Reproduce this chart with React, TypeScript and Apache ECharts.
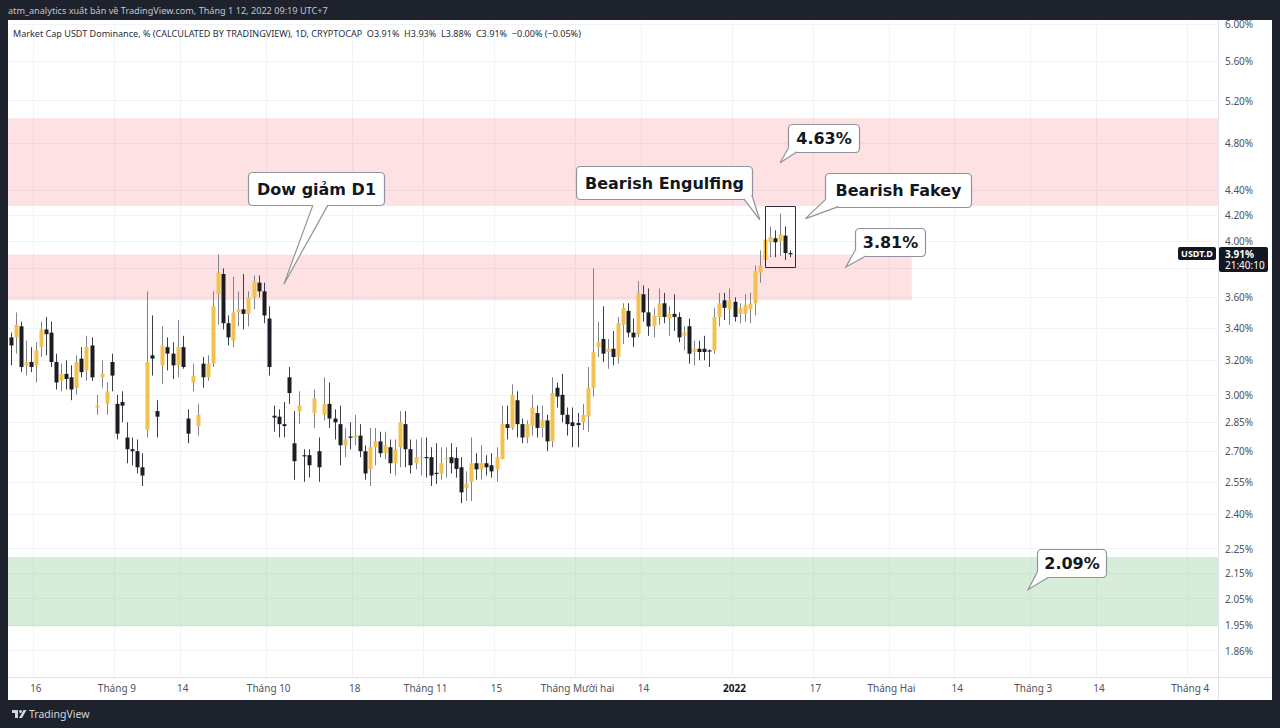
import React, { useEffect, useRef } from 'react';
import * as echarts from 'echarts';

// Daily candles, values in % : [open, close, low, high]
const aug2021 = [
  [3.34, 3.29, 3.17, 3.37], [3.34, 3.42, 3.24, 3.5], [3.41, 3.16, 3.13, 3.44], [3.17, 3.19, 3.11, 3.32],
  [3.19, 3.16, 3.13, 3.28], [3.17, 3.26, 3.07, 3.31], [3.28, 3.39, 3.22, 3.44], [3.39, 3.36, 3.23, 3.47],
  [3.37, 3.19, 3.16, 3.44], [3.19, 3.07, 3.03, 3.24], [3.08, 3.12, 3.02, 3.18], [3.12, 3.09, 3.03, 3.2],
  [3.1, 3.03, 2.97, 3.17], [3.04, 3.19, 3.0, 3.23], [3.21, 3.13, 3.1, 3.28], [3.14, 3.28, 3.08, 3.35],
  [3.29, 3.1, 3.08, 3.34], [2.93, 2.94, 2.89, 3.0], [3.1, 3.12, 3.04, 3.2], [2.95, 3.02, 2.89, 3.07],
  [3.19, 3.11, 3.02, 3.24],
];
const sep2021 = [
  [2.95, 2.79, 2.76, 3.0], [2.96, 2.94, 2.85, 3.02], [2.77, 2.71, 2.64, 2.85], [2.71, 2.7, 2.63, 2.77],
  [2.7, 2.62, 2.59, 2.76], [2.62, 2.58, 2.53, 2.69], [2.81, 3.19, 2.77, 3.64], [3.23, 3.21, 3.11, 3.48],
  [2.91, 2.88, 2.77, 2.97], [3.17, 3.29, 3.06, 3.41], [3.28, 3.24, 3.14, 3.34], [3.24, 3.17, 3.09, 3.31],
  [3.17, 3.28, 3.1, 3.45], [3.28, 3.16, 3.15, 3.35], [2.87, 2.79, 2.74, 2.92], [3.07, 3.11, 3.02, 3.18],
  [2.83, 2.89, 2.78, 2.95], [3.18, 3.1, 3.04, 3.22], [3.1, 3.18, 3.08, 3.23], [3.18, 3.54, 3.16, 3.64],
  [3.62, 3.77, 3.42, 3.9], [3.76, 3.43, 3.39, 3.8], [3.43, 3.34, 3.29, 3.48], [3.32, 3.5, 3.28, 3.74],
  [3.5, 3.52, 3.41, 3.64], [3.52, 3.49, 3.39, 3.76], [3.49, 3.6, 3.41, 3.64], [3.6, 3.71, 3.52, 3.75],
  [3.7, 3.64, 3.6, 3.75], [3.64, 3.48, 3.43, 3.7],
];
const oct2021 = [
  [3.46, 3.16, 3.11, 3.54], [2.885, 2.875, 2.8, 2.94], [2.88, 2.84, 2.77, 2.92], [2.84, 2.83, 2.77, 2.96],
  [3.1, 3.01, 2.95, 3.16], [2.74, 2.65, 2.56, 2.91], [2.91, 2.94, 2.84, 3.02], [2.68, 2.675, 2.55, 2.71],
  [2.68, 2.63, 2.57, 2.71], [2.9, 2.98, 2.82, 3.03], [2.7, 2.62, 2.55, 2.77], [2.89, 2.95, 2.86, 3.1],
  [2.95, 2.87, 2.82, 3.07], [2.87, 2.85, 2.76, 2.92], [2.84, 2.73, 2.63, 2.94], [2.73, 2.76, 2.67, 2.82],
  [2.775, 2.77, 2.71, 2.85], [2.77, 2.78, 2.73, 2.89], [2.78, 2.7, 2.67, 2.84], [2.7, 2.59, 2.56, 2.73],
  [2.61, 2.72, 2.53, 2.82], [2.72, 2.75, 2.63, 2.82], [2.75, 2.69, 2.67, 2.8], [2.69, 2.73, 2.66, 2.8],
  [2.72, 2.64, 2.59, 2.76], [2.64, 2.71, 2.58, 2.76], [2.72, 2.85, 2.62, 2.91], [2.84, 2.71, 2.62, 2.91],
  [2.71, 2.63, 2.59, 2.76], [2.64, 2.67, 2.61, 2.76], [2.666, 2.671, 2.58, 2.77],
];
const nov2021 = [
  [2.671, 2.666, 2.57, 2.77], [2.67, 2.58, 2.53, 2.72], [2.593, 2.588, 2.54, 2.74], [2.59, 2.64, 2.56, 2.72],
  [2.661, 2.666, 2.57, 2.72], [2.67, 2.64, 2.59, 2.74], [2.666, 2.612, 2.57, 2.72], [2.62, 2.5, 2.45, 2.67],
  [2.52, 2.54, 2.46, 2.6], [2.55, 2.64, 2.46, 2.77], [2.64, 2.61, 2.56, 2.69], [2.61, 2.64, 2.56, 2.73],
  [2.64, 2.62, 2.58, 2.68], [2.63, 2.6, 2.57, 2.69], [2.61, 2.67, 2.55, 2.72], [2.66, 2.84, 2.66, 2.94],
  [2.84, 2.82, 2.76, 2.94], [2.82, 3.0, 2.81, 3.06], [2.97, 2.84, 2.77, 3.02], [2.84, 2.77, 2.74, 2.87],
  [2.77, 2.84, 2.74, 2.86], [2.83, 2.93, 2.78, 3.0], [2.9, 2.82, 2.77, 2.94], [2.82, 2.86, 2.77, 2.94],
  [2.86, 2.75, 2.7, 2.89], [2.75, 3.01, 2.72, 3.1], [3.04, 2.99, 2.93, 3.07], [3.0, 2.89, 2.85, 3.12],
  [2.89, 2.84, 2.78, 2.93], [2.85, 2.83, 2.72, 2.93],
];
const dec2021 = [
  [2.846, 2.835, 2.72, 2.9], [2.85, 2.89, 2.81, 2.95], [2.88, 3.04, 2.8, 3.16], [3.04, 3.25, 2.99, 3.8],
  [3.28, 3.31, 3.22, 3.44], [3.33, 3.24, 3.19, 3.54], [3.25, 3.27, 3.15, 3.33], [3.27, 3.22, 3.17, 3.38],
  [3.22, 3.43, 3.18, 3.47], [3.42, 3.53, 3.3, 3.56], [3.51, 3.37, 3.34, 3.56], [3.37, 3.34, 3.28, 3.46],
  [3.36, 3.63, 3.34, 3.71], [3.62, 3.5, 3.44, 3.68], [3.5, 3.41, 3.35, 3.66], [3.41, 3.48, 3.34, 3.53],
  [3.47, 3.56, 3.42, 3.66], [3.56, 3.47, 3.43, 3.63], [3.46, 3.49, 3.35, 3.54], [3.49, 3.47, 3.38, 3.62],
  [3.47, 3.34, 3.31, 3.5], [3.35, 3.37, 3.26, 3.41], [3.41, 3.24, 3.18, 3.46], [3.25, 3.27, 3.17, 3.32],
  [3.27, 3.25, 3.2, 3.32], [3.27, 3.25, 3.2, 3.35], [3.26, 3.255, 3.16, 3.265], [3.26, 3.47, 3.24, 3.53],
  [3.47, 3.56, 3.41, 3.63], [3.58, 3.53, 3.45, 3.63], [3.52, 3.58, 3.42, 3.66],
];
const jan2022 = [
  [3.57, 3.47, 3.44, 3.6], [3.49, 3.53, 3.43, 3.56], [3.49, 3.55, 3.44, 3.62], [3.52, 3.56, 3.43, 3.63],
  [3.56, 3.78, 3.48, 3.82], [3.77, 3.82, 3.7, 3.93], [3.86, 4.01, 3.85, 4.07], [3.99, 4.03, 3.88, 4.11],
  [4.02, 3.99, 3.88, 4.08], [4.0, 4.05, 3.89, 4.21], [4.04, 3.91, 3.86, 4.11], [3.91, 3.91, 3.88, 3.93],
];

const firstDay = '2021-08-11';
const dayCount = 239;
const yMin = 1.7704;
const yMax = 6.0225;
// grid lines (3.80 sits under the last-price tag, so it has no visible label)
const priceGrid = [6.0, 5.6, 5.2, 4.8, 4.4, 4.2, 4.0, 3.8, 3.6, 3.4, 3.2, 3.0, 2.85, 2.7, 2.55, 2.4, 2.25, 2.15, 2.05, 1.95, 1.86];
const priceLabels = [6.0, 5.6, 5.2, 4.8, 4.4, 4.2, 4.0, 3.6, 3.4, 3.2, 3.0, 2.85, 2.7, 2.55, 2.4, 2.25, 2.15, 2.05, 1.95, 1.86];
const timeTicks: [string, string][] = [
  ['2021-08-16', '16'], ['2021-09-01', 'Tháng 9'], ['2021-09-14', '14'], ['2021-10-01', 'Tháng 10'],
  ['2021-10-18', '18'], ['2021-11-01', 'Tháng 11'], ['2021-11-15', '15'], ['2021-12-01', 'Tháng Mười hai'],
  ['2021-12-14', '14'], ['2022-01-01', '2022'], ['2022-01-17', '17'], ['2022-02-01', 'Tháng Hai'],
  ['2022-02-14', '14'], ['2022-03-01', 'Tháng 3'], ['2022-03-14', '14'], ['2022-04-01', 'Tháng 4'],
];

// Zones: from/to null = chart edge
const zones = [
  { from: null as string | null, to: null as string | null, low: 4.27, high: 5.03, color: 'rgba(242,54,69,0.15)' },
  { from: null as string | null, to: '2022-02-05', low: 3.58, high: 3.9, color: 'rgba(242,54,69,0.15)' },
  { from: null as string | null, to: null as string | null, low: 1.947, high: 2.216, color: 'rgba(76,175,80,0.22)' },
];
const highlight = { from: '2022-01-07', to: '2022-01-13', low: 3.81, high: 4.27 };
const callouts = [
  { date: '2021-10-04', value: 3.69, text: 'Dow giảm D1', box: [-36, -112, 136, 33], tail: [[29, -79], [44, -79]] },
  { date: '2022-01-06', value: 4.16, text: 'Bearish Engulfing', box: [-184, -54, 176, 33], tail: [[-16, -21], [-8, -25]] },
  { date: '2022-01-10', value: 4.63, text: '4.63%', box: [8, -39, 71, 28], tail: [[8, -14], [17, -11]] },
  { date: '2022-01-15', value: 4.17, text: 'Bearish Fakey', box: [20, -46, 146, 34], tail: [[20, -19], [33, -12]] },
  { date: '2022-01-23', value: 3.81, text: '3.81%', box: [9, -39, 70, 28], tail: [[9, -16], [20, -11]] },
  { date: '2022-02-28', value: 2.085, text: '2.09%', box: [9, -40, 69, 28], tail: [[9, -17], [20, -12]] },
];
const headerText = 'atm_analytics xuất bản về TradingView.com, Tháng 1 12, 2022 09:19 UTC+7';
const legendText = 'Market Cap USDT Dominance, % (CALCULATED BY TRADINGVIEW), 1D, CRYPTOCAP  O3.91%  H3.93%  L3.88%  C3.91%  −0.00% (−0.05%)';
const symbolName = 'USDT.D';
const lastPrice = 3.91;
const lastPriceText = '3.91%';
const countdown = '21:40:10';

const UP = '#f2c14e';
const DOWN = '#1c1d22';
const WICK_UP = '#80838c';
const WICK_DOWN = '#3b3e46';
const DARK = '#1e222d';

const dates: string[] = [];
{
  const start = Date.parse(firstDay + 'T00:00:00Z');
  for (let i = 0; i < dayCount; i++) dates.push(new Date(start + i * 86400000).toISOString().slice(0, 10));
}
const tickMap = new Map(timeTicks);
const allCandles = [...aug2021, ...sep2021, ...oct2021, ...nov2021, ...dec2021, ...jan2022];
const candleData = allCandles.map((d, i) => [i, d[0], d[1], d[2], d[3]]);
const zoneData = zones.map((z, i) => [
  z.from ? dates.indexOf(z.from) : -1,
  z.to ? dates.indexOf(z.to) : -1,
  z.low,
  z.high,
  i,
]);

function buildOption(): any {
  return {
    animation: false,
    backgroundColor: '#ffffff',
    grid: { left: 8, top: 22, width: 1210, height: 655, containLabel: false },
    xAxis: {
      type: 'category',
      data: dates,
      boundaryGap: true,
      axisLine: { show: false },
      axisTick: { show: false },
      axisLabel: {
        interval: (_i: number, v: string) => tickMap.has(v),
        formatter: (v: string) => (tickMap.get(v) === '2022' ? '{b|2022}' : tickMap.get(v) || ''),
        color: '#50535e',
        fontSize: 10,
        fontFamily: 'Noto Sans',
        margin: 6,
        hideOverlap: false,
        rich: { b: { fontWeight: 'bold', color: '#131722', fontSize: 10, fontFamily: 'Noto Sans' } },
      },
      splitLine: {
        show: true,
        interval: (_i: number, v: string) => tickMap.has(v),
        lineStyle: { color: '#f2f3f6', width: 1 },
      },
    },
    yAxis: {
      type: 'log',
      logBase: 10,
      position: 'right',
      min: yMin,
      max: yMax,
      axisLine: { show: false },
      axisTick: { show: false, customValues: priceGrid },
      axisLabel: {
        customValues: priceLabels,
        formatter: (v: number) => v.toFixed(2) + '%',
        color: '#50535e',
        fontSize: 10,
        fontFamily: 'Noto Sans',
        margin: 7,
      },
      splitLine: { show: true, lineStyle: { color: '#f2f3f6', width: 1 } },
    },
    series: [
      {
        type: 'custom',
        name: 'zones',
        z: 1,
        clip: true,
        data: zoneData,
        encode: { x: [0, 1], y: [2, 3] },
        renderItem: (params: any, api: any) => {
          const cs = params.coordSys;
          const z = zones[api.value(4)];
          const fromI = api.value(0);
          const toI = api.value(1);
          const yTop = api.coord([0, api.value(3)])[1];
          const yBot = api.coord([0, api.value(2)])[1];
          const x0 = fromI < 0 ? cs.x : api.coord([fromI, z.high])[0];
          const x1 = toI < 0 ? cs.x + cs.width : api.coord([toI, z.high])[0];
          return {
            type: 'rect',
            shape: { x: x0, y: yTop, width: x1 - x0, height: yBot - yTop },
            style: { fill: z.color },
          };
        },
      },
      {
        type: 'custom',
        name: symbolName,
        z: 3,
        clip: true,
        data: candleData,
        encode: { x: 0, y: [1, 2, 3, 4] },
        renderItem: (_params: any, api: any) => {
          const i = api.value(0);
          const o = api.value(1);
          const c = api.value(2);
          const l = api.value(3);
          const h = api.value(4);
          const pO = api.coord([i, o]);
          const pC = api.coord([i, c]);
          const pL = api.coord([i, l]);
          const pH = api.coord([i, h]);
          const band = api.size([1, 0], [i, o])[0];
          const w = Math.max(1, Math.round(band * 0.72));
          const cx = Math.round(pO[0]);
          const up = c > o;
          const top = Math.min(pO[1], pC[1]);
          const hgt = Math.max(1.2, Math.abs(pO[1] - pC[1]));
          const bx = cx - Math.floor(w / 2) + (w % 2 === 0 ? 0.5 : 0);
          return {
            type: 'group',
            children: [
              {
                type: 'line',
                shape: { x1: cx + 0.5, y1: pH[1], x2: cx + 0.5, y2: pL[1] },
                style: { stroke: up ? WICK_UP : WICK_DOWN, lineWidth: 1 },
              },
              {
                type: 'rect',
                shape: { x: bx, y: top, width: w, height: hgt },
                style: { fill: up ? UP : DOWN },
              },
            ],
          };
        },
      },
    ],
  };
}

function buildGraphics(chart: any): any[] {
  const px = (d: string, v: number) => chart.convertToPixel({ gridIndex: 0 }, [d, v]) as number[];
  const els: any[] = [];
  // highlight box
  const h0 = px(highlight.from, highlight.high);
  const h1 = px(highlight.to, highlight.low);
  els.push({
    type: 'rect',
    z: 50,
    shape: { x: Math.round(h0[0]) + 0.5, y: Math.round(h0[1]) + 0.5, width: Math.round(h1[0] - h0[0]), height: Math.round(h1[1] - h0[1]) },
    style: { fill: 'none', stroke: '#2a2e39', lineWidth: 1 },
  });
  // callouts
  callouts.forEach((c) => {
    const a = px(c.date, c.value);
    const ax = a[0];
    const ay = a[1];
    const [dx, dy, w, hh] = c.box;
    const bx = Math.round(ax + dx) + 0.5;
    const by = Math.round(ay + dy) + 0.5;
    const ccx = bx + w / 2;
    const ccy = by + hh / 2;
    const p = c.tail.map((t) => [ax + t[0], ay + t[1]]);
    const inner = p.map((q) => {
      const vx = ccx - q[0];
      const vy = ccy - q[1];
      const n = Math.hypot(vx, vy) || 1;
      return [q[0] + (vx / n) * 2.5, q[1] + (vy / n) * 2.5];
    });
    els.push({
      type: 'rect',
      z: 60,
      shape: { x: bx, y: by, width: w, height: hh, r: 4 },
      style: { fill: '#ffffff', stroke: '#8f939d', lineWidth: 1.2 },
    });
    els.push({
      type: 'polygon',
      z: 61,
      shape: { points: [p[0], [ax, ay], p[1], inner[1], inner[0]] },
      style: { fill: '#ffffff', stroke: 'none' },
    });
    els.push({
      type: 'polyline',
      z: 62,
      shape: { points: [p[0], [ax, ay], p[1]] },
      style: { fill: 'none', stroke: '#8f939d', lineWidth: 1.2 },
    });
    els.push({
      type: 'text',
      z: 63,
      x: ccx,
      y: ccy,
      style: {
        text: c.text,
        align: 'center',
        verticalAlign: 'middle',
        fontFamily: 'DejaVu Sans',
        fontWeight: 'bold',
        fontSize: 16,
        fill: '#131722',
      },
    });
  });
  // separators
  els.push({ type: 'line', z: 40, shape: { x1: 1218.5, y1: 20, x2: 1218.5, y2: 700 }, style: { stroke: '#e0e3eb', lineWidth: 1 } });
  els.push({ type: 'line', z: 40, shape: { x1: 8, y1: 677.5, x2: 1272, y2: 677.5 }, style: { stroke: '#e0e3eb', lineWidth: 1 } });
  // price tag
  const lp = px(dates[0], lastPrice);
  const ly = Math.round(lp[1]);
  els.push({ type: 'rect', z: 70, shape: { x: 1178, y: ly - 6, width: 38, height: 13, r: 2 }, style: { fill: '#131722' } });
  els.push({
    type: 'text', z: 71, x: 1197, y: ly + 0.5,
    style: { text: symbolName, align: 'center', verticalAlign: 'middle', fontFamily: 'Noto Sans', fontWeight: 'bold', fontSize: 9, fill: '#ffffff' },
  });
  els.push({ type: 'rect', z: 70, shape: { x: 1219, y: ly - 6, width: 49, height: 25, r: 2 }, style: { fill: '#131722' } });
  els.push({
    type: 'text', z: 71, x: 1225, y: ly + 0.5,
    style: { text: lastPriceText, align: 'left', verticalAlign: 'middle', fontFamily: 'Noto Sans', fontWeight: 'bold', fontSize: 10, fill: '#ffffff' },
  });
  els.push({
    type: 'text', z: 71, x: 1225, y: ly + 12,
    style: { text: countdown, align: 'left', verticalAlign: 'middle', fontFamily: 'Noto Sans', fontSize: 10, fill: '#ffffff' },
  });
  // legend
  els.push({
    type: 'text', z: 80, x: 13, y: 33,
    style: { text: legendText, align: 'left', verticalAlign: 'middle', fontFamily: 'Noto Sans', fontSize: 9.05, fill: '#2a2e39' },
  });
  // dark frame
  els.push({ type: 'rect', z: 100, shape: { x: 0, y: 0, width: 1280, height: 20 }, style: { fill: DARK } });
  els.push({ type: 'rect', z: 100, shape: { x: 0, y: 0, width: 8, height: 728 }, style: { fill: DARK } });
  els.push({ type: 'rect', z: 100, shape: { x: 1272, y: 0, width: 8, height: 728 }, style: { fill: DARK } });
  els.push({ type: 'rect', z: 100, shape: { x: 0, y: 700, width: 1280, height: 28 }, style: { fill: DARK } });
  els.push({
    type: 'text', z: 101, x: 8, y: 10,
    style: { text: headerText, align: 'left', verticalAlign: 'middle', fontFamily: 'Noto Sans', fontSize: 9.15, fill: '#c3c6ce' },
  });
  // TradingView logo
  els.push({ type: 'rect', z: 101, shape: { x: 12, y: 710, width: 6, height: 3 }, style: { fill: '#d1d4dc' } });
  els.push({ type: 'rect', z: 101, shape: { x: 15, y: 710, width: 3, height: 8 }, style: { fill: '#d1d4dc' } });
  els.push({ type: 'circle', z: 101, shape: { cx: 20.5, cy: 711.5, r: 1.5 }, style: { fill: '#d1d4dc' } });
  els.push({ type: 'polygon', z: 101, shape: { points: [[19, 718], [23.5, 710], [26.5, 710], [22, 718]] }, style: { fill: '#d1d4dc' } });
  els.push({
    type: 'text', z: 101, x: 29, y: 714,
    style: { text: 'TradingView', align: 'left', verticalAlign: 'middle', fontFamily: 'Noto Sans', fontSize: 10.5, fill: '#d1d4dc' },
  });
  return els;
}

export default function App() {
  const ref = useRef<HTMLDivElement>(null);
  useEffect(() => {
    const el = ref.current;
    if (!el) return;
    const chart = echarts.init(el, null, { renderer: 'svg' });
    chart.setOption(buildOption());
    chart.setOption({ graphic: { elements: buildGraphics(chart) } });
    return () => chart.dispose();
  }, []);
  return <div ref={ref} style={{ position: 'fixed', left: 0, top: 0, width: 1280, height: 728 }} />;
}
